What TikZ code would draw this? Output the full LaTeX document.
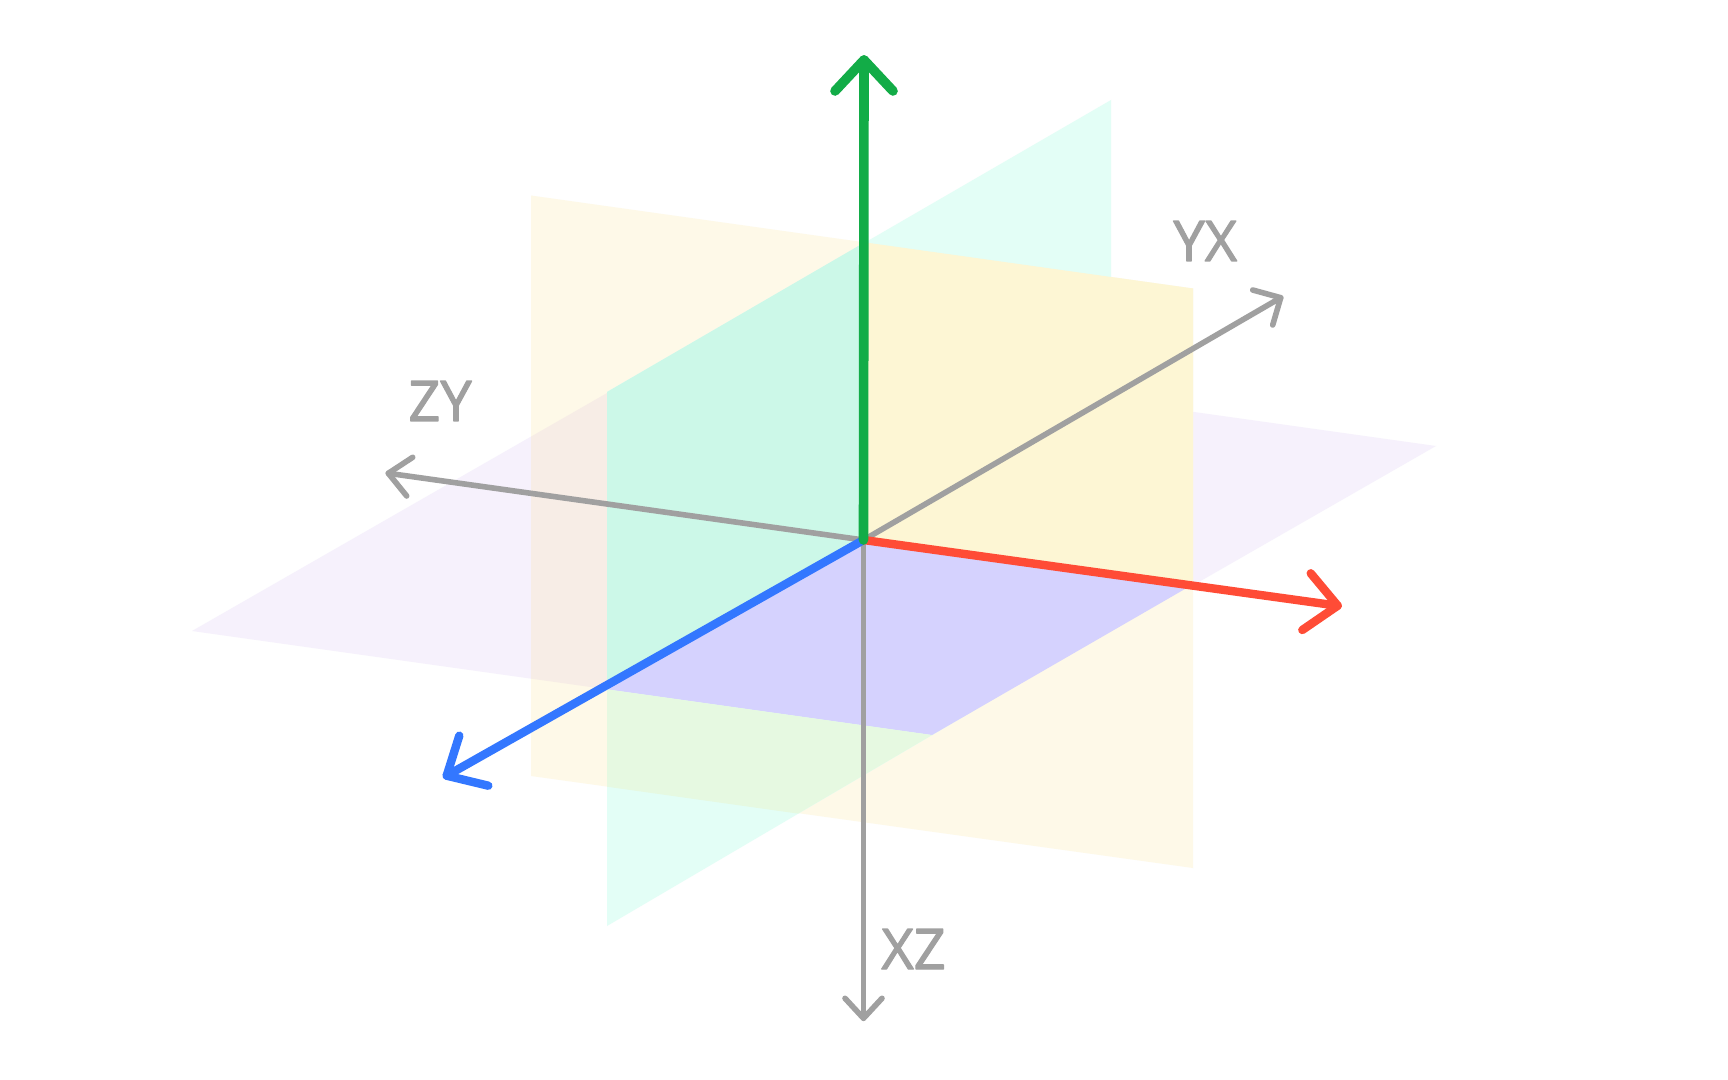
\documentclass[tikz,border=0pt]{standalone}
\usepackage{fontspec}
\setmainfont{Open Sans}
\newfontfamily\lblfont{Open Sans}[BoldFont={Open Sans},BoldFeatures={FakeBold=2}]
\definecolor{cPurple}{HTML}{F6F1FC}
\definecolor{cYellow}{HTML}{FEF9E8}
\definecolor{cGreen}{HTML}{E3FEF6}
\definecolor{cPink}{HTML}{F7EDE6}
\definecolor{cMint}{HTML}{CCF8E8}
\definecolor{cStrongY}{HTML}{FDF6D4}
\definecolor{cPB}{HTML}{D5D2FE}
\definecolor{cLGreen}{HTML}{E6F9E1}
\definecolor{axGray}{HTML}{A0A0A0}
\definecolor{axRed}{HTML}{FF4C36}
\definecolor{axGreen}{HTML}{12AC47}
\definecolor{axBlue}{HTML}{3377FF}
\begin{document}
\begin{tikzpicture}[x=0.5pt,y=-0.5pt,line cap=round,line join=round,
  grayaxis/.style={draw=axGray,line width=2.8pt},
  redaxis/.style={draw=axRed,line width=4.2pt},
  blueaxis/.style={draw=axBlue,line width=4.2pt},
  greenaxis/.style={draw=axGreen,line width=4.8pt},
  lbl/.style={text=axGray,inner sep=0pt,anchor=base west,font=\lblfont\bfseries\fontsize{28}{30}\selectfont}]
\useasboundingbox (0,0) rectangle (1728,1080);
\fill[white] (0,0) rectangle (1728,1080);
% plane corners
\coordinate (pL) at (192,631);
\coordinate (pB) at (932,735);
\coordinate (pR) at (1436,446);
\coordinate (pT) at (696,342);
\coordinate (yTL) at (531,195.5);
\coordinate (yTR) at (1193,288.5);
\coordinate (yBR) at (1193,868);
\coordinate (yBL) at (531,776);
\coordinate (gTL) at (607,392);
\coordinate (gTR) at (1111,100);
\coordinate (gBR) at (1111,630);
\coordinate (gBL) at (607,926);
% axes
\coordinate (O) at (863.5,540);
\coordinate (gTip) at (864,60);
\coordinate (gW1) at (835,91);
\coordinate (gW2) at (893,91);
\coordinate (rTip) at (1337.7,605.7);
\coordinate (rW1) at (1310.7,573.3);
\coordinate (rW2) at (1302.3,630);
\coordinate (bTip) at (446.7,775.7);
\coordinate (bW1) at (459.3,735.7);
\coordinate (bW2) at (488.3,785.7);
\coordinate (zyTip) at (388.3,473.3);
\coordinate (zyW1) at (412.7,457.3);
\coordinate (zyW2) at (406.7,496);
\coordinate (yxTip) at (1280.7,297.7);
\coordinate (yxW1) at (1252.7,290);
\coordinate (yxW2) at (1272.7,325);
\coordinate (xzTip) at (863.5,1018.3);
\coordinate (xzW1) at (845,998.3);
\coordinate (xzW2) at (882,998.3);
% single planes
\fill[cPurple] (pL) -- (pB) -- (pR) -- (pT) -- cycle;
\fill[cYellow] (yTL) -- (yTR) -- (yBR) -- (yBL) -- cycle;
\fill[cGreen] (gTL) -- (gTR) -- (gBR) -- (gBL) -- cycle;
% overlaps
\begin{scope}
  \clip (531,0) rectangle (607,1080);
  \fill[cPink] (pL) -- (pB) -- (pR) -- (pT) -- cycle;
\end{scope}
\fill[cMint] (gTL) -- (863.5,243) -- (O) -- (607,685) -- cycle;
\fill[cStrongY] (863.5,242.2) -- (yTR) -- (1193,585.7) -- (O) -- cycle;
\fill[cPB] (O) -- (1191,585.5) -- (pB) -- (601,688.5) -- cycle;
\fill[cLGreen] (607,689.3) -- (pB) -- (798,813.6) -- (607,786.7) -- cycle;
% gray axes
\draw[grayaxis] (O) -- (zyTip);
\draw[grayaxis] (zyW1) -- (zyTip) -- (zyW2);
\draw[grayaxis] (O) -- (yxTip);
\draw[grayaxis] (yxW1) -- (yxTip) -- (yxW2);
\draw[grayaxis] (O) -- (xzTip);
\draw[grayaxis] (xzW1) -- (xzTip) -- (xzW2);
% colored axes
\draw[blueaxis] (O) -- (bTip);
\draw[blueaxis] (bW1) -- (bTip) -- (bW2);
\draw[redaxis] (O) -- (rTip);
\draw[redaxis] (rW1) -- (rTip) -- (rW2);
\draw[greenaxis] (O) -- (gTip);
\draw[greenaxis] (gW1) -- (gTip) -- (gW2);
% labels
\node[lbl] (lZY) at (408,421) {ZY};
\node[lbl] (lYX) at (1173,261) {YX};
\node[lbl] (lXZ) at (881,969) {XZ};
\end{tikzpicture}
\end{document}
